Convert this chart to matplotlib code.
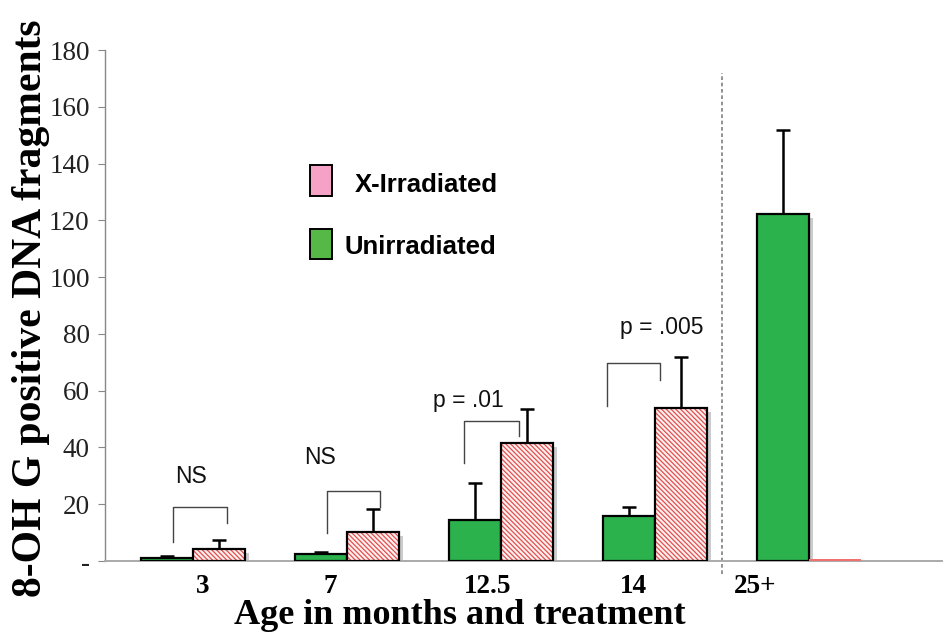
import numpy as np
import matplotlib
matplotlib.use('Agg')
import matplotlib.pyplot as plt
from matplotlib.patches import Rectangle

# data
ages = ['3', '7', '12.5', '14', '25+']
unirr = [1.2, 2.5, 14.4, 15.9, 122.2]
unirr_err = [0.6, 0.7, 13.1, 3.2, 29.6]
xirr = [4.2, 10.3, 41.6, 53.9, 0.8]
xirr_err = [3.2, 8.0, 12.1, 18.0, 0.0]
sig_labels = ['NS', 'NS', 'p = .01', 'p = .005']

serif = 'Liberation Serif'
sans = 'Liberation Sans'

green = '#2bb24c'
red = '#e2504e'

plt.rcParams['hatch.linewidth'] = 0.9

fig = plt.figure(figsize=(9.43, 6.32), dpi=100)
ax = fig.add_axes([0.1113, 0.1123, 0.8887, 0.8085])

x = np.arange(len(ages))
w = 0.338
xg = x - w / 2
xr = x + w / 2

# shadows
ax.bar(xg + 0.028, np.array(unirr) - 1.5, w, color='#cccccc', zorder=1)
ax.bar(xr + 0.028, np.clip(np.array(xirr) - 1.5, 0, None), w, color='#cccccc', zorder=1)

# unirradiated
ax.bar(xg, unirr, w, color=green, edgecolor='black', linewidth=1.6, zorder=3)

# x-irradiated, hatched (the near-zero bar shows only as a red line)
big = [v if v > 2 else 0 for v in xirr]
small = [v if v <= 2 else 0 for v in xirr]
ax.bar(xr, big, w, color='#fdf0f0', edgecolor=red, linewidth=0, hatch='\\' * 7, zorder=3)
ax.bar(xr, big, w, color='none', edgecolor=['black' if v > 0 else 'none' for v in big],
       linewidth=1.6, zorder=4)
ax.bar(xr, small, w, color='#f07070', linewidth=0, zorder=3)

# error bars (upper only)
for xs, vals, errs in [(xg, unirr, unirr_err), (xr, xirr, xirr_err)]:
    for xi, v, e in zip(xs, vals, errs):
        if e > 0:
            ax.errorbar(xi, v, yerr=[[0], [e]], fmt='none', ecolor='black',
                        elinewidth=1.8, capsize=5, capthick=1.8, zorder=2)

# brackets
br_left = [-0.13, 0.87, 1.76, 2.688]
br_right = [0.22, 1.214, 2.117, 3.032]
br_lbot = [6.7, 9.9, 34.6, 54.6]
br_top = [19.0, 24.7, 49.3, 69.8]
br_rbot = [13.4, 19.0, 44.0, 63.8]
for i in range(4):
    ax.plot([br_left[i], br_left[i], br_right[i], br_right[i]],
            [br_lbot[i], br_top[i], br_top[i], br_rbot[i]],
            color='#444444', lw=1.0, zorder=5)

txt_x = [-0.013, 0.825, 1.786, 3.045]
txt_y = [29.6, 36.6, 56.7, 82.1]
for i in range(4):
    ax.text(txt_x[i], txt_y[i], sig_labels[i], ha='center', va='center',
            fontsize=16.5, family=sans, color='#111111')

# dashed separator
ax.plot([3.435, 3.435], [-4.5, 172], ls=(0, (2.2, 1.6)), color='#808080', lw=1.2,
        clip_on=False, zorder=2)

# legend drawn by hand
ax.add_patch(Rectangle((0.2446, 0.714), 0.0263, 0.061, transform=ax.transAxes,
                       facecolor='#f4a3c6', edgecolor='black', lw=1.4, zorder=6))
ax.add_patch(Rectangle((0.2446, 0.591), 0.0263, 0.059, transform=ax.transAxes,
                       facecolor='#56b947', edgecolor='black', lw=1.4, zorder=6))
ax.text(0.2983, 0.736, 'X-Irradiated', transform=ax.transAxes, va='center', ha='left',
        fontsize=18.5, fontweight='bold', family=sans)
ax.text(0.2864, 0.6145, 'Unirradiated', transform=ax.transAxes, va='center', ha='left',
        fontsize=18.5, fontweight='bold', family=sans)

# axes
ax.set_xlim(-0.571, 4.87)
ax.set_ylim(0, 180)
for s in ['top', 'right']:
    ax.spines[s].set_visible(False)
ax.spines['left'].set_color('#888888')
ax.spines['bottom'].set_color('#aaaaaa')
ax.spines['left'].set_linewidth(1.0)
ax.spines['bottom'].set_linewidth(1.4)

yt = np.arange(0, 181, 20)
ax.set_yticks(yt)
ax.set_yticklabels(['-'] + [str(v) for v in yt[1:]], family=serif, fontsize=19.5, color='#222222')
ax.tick_params(axis='y', length=5, color='#888888', pad=6)

tick_pos = [0.065, 0.89, 1.915, 2.86, 3.65]
ax.set_xticks(tick_pos)
ax.set_xticklabels(ages, family=serif, fontsize=19.5, fontweight='bold')
ax.tick_params(axis='x', length=0, pad=9)

ax.set_xlabel('Age in months and treatment', family=serif, fontsize=26,
              fontweight='bold')
ax.xaxis.set_label_coords(0.4236, -0.074)
ax.set_ylabel('8-OH G positive DNA fragments', family=serif, fontsize=30,
              fontweight='bold')
ax.yaxis.set_label_coords(-0.066, 0.495)

fig.savefig('out.png', dpi=100)
